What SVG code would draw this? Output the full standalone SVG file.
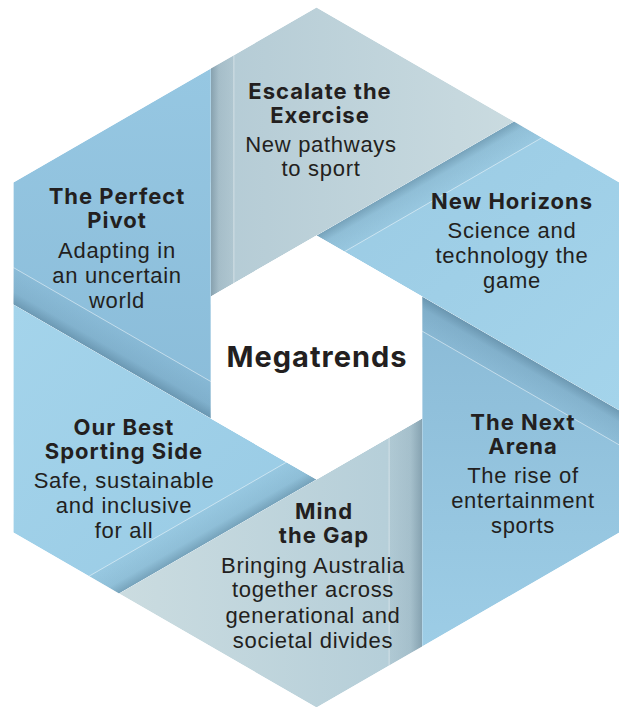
<svg xmlns="http://www.w3.org/2000/svg" width="619" height="707" viewBox="0 0 619 707">
  <defs>
    <style>
      .t { font-family: "Inter", "Liberation Sans", sans-serif; font-weight: 700; font-size: 22px; fill: #231f20; text-anchor: middle; letter-spacing: 1px; }
      .b { font-family: "Liberation Sans", Arial, sans-serif; font-size: 22px; fill: #231f20; text-anchor: middle; letter-spacing: 0.7px; }
      .c { font-family: "Inter", "Liberation Sans", sans-serif; font-weight: 700; font-size: 29px; fill: #231f20; text-anchor: middle; letter-spacing: 1px; }
      .fold { stroke: #ffffff; stroke-opacity: 0.55; stroke-width: 0.8; fill: none; }
    </style>

    <!-- blade fills -->
    <linearGradient id="gEsc" x1="0" y1="0" x2="1" y2="0">
      <stop offset="0" stop-color="#b4cbd5"/>
      <stop offset="1" stop-color="#cadbe0"/>
    </linearGradient>
    <linearGradient id="gHor" x1="0" y1="0" x2="1" y2="1">
      <stop offset="0" stop-color="#9acae3"/>
      <stop offset="1" stop-color="#a4d4eb"/>
    </linearGradient>
    <linearGradient id="gAre" x1="0" y1="0" x2="0" y2="1">
      <stop offset="0" stop-color="#8abad6"/>
      <stop offset="1" stop-color="#9dcde6"/>
    </linearGradient>
    <linearGradient id="gGap" x1="0" y1="0" x2="1" y2="0">
      <stop offset="0" stop-color="#cbdce0"/>
      <stop offset="1" stop-color="#b3cdd8"/>
    </linearGradient>
    <linearGradient id="gBest" x1="0" y1="0" x2="1" y2="1">
      <stop offset="0" stop-color="#a4d4eb"/>
      <stop offset="1" stop-color="#98cae4"/>
    </linearGradient>
    <linearGradient id="gPiv" x1="0" y1="0" x2="0" y2="1">
      <stop offset="0" stop-color="#96c7e2"/>
      <stop offset="1" stop-color="#8abcd9"/>
    </linearGradient>

    <!-- overlap shadow along the edge a blade tucks under -->
    <linearGradient id="shade" x1="0" y1="0" x2="0" y2="1">
      <stop offset="0" stop-color="#1d3f55" stop-opacity="0.30"/>
      <stop offset="0.35" stop-color="#1d3f55" stop-opacity="0.10"/>
      <stop offset="1" stop-color="#1d3f55" stop-opacity="0.04"/>
    </linearGradient>

    <clipPath id="cEsc"><polygon points="210.85,296.5 210.85,68.5 316.5,7.5 513.95,121.5 316.5,235.5"/></clipPath>
    <clipPath id="cHor"><polygon points="316.5,235.5 513.95,121.5 619.6,182.5 619.6,410.5 422.15,296.5"/></clipPath>
    <clipPath id="cAre"><polygon points="422.15,296.5 619.6,410.5 619.6,532.5 422.15,646.5 422.15,418.5"/></clipPath>
    <clipPath id="cGap"><polygon points="422.15,418.5 422.15,646.5 316.5,707.5 119.05,593.5 316.5,479.5"/></clipPath>
    <clipPath id="cBest"><polygon points="316.5,479.5 119.05,593.5 13.4,532.5 13.4,304.5 210.85,418.5"/></clipPath>
    <clipPath id="cPiv"><polygon points="210.85,418.5 13.4,304.5 13.4,182.5 210.85,68.5 210.85,296.5"/></clipPath>
  </defs>

  <!-- Escalate the Exercise (top blade) -->
  <g id="escalate">
    <g clip-path="url(#cEsc)">
      <polygon points="210.85,296.5 210.85,68.5 316.5,7.5 513.95,121.5 316.5,235.5" fill="url(#gEsc)"/>
      <g transform="translate(210.85,296.5) rotate(-90)">
        <rect x="-500" y="0" width="1000" height="23" fill="url(#shade)"/>
        <line class="fold" x1="-500" y1="23" x2="500" y2="23"/>
      </g>
    </g>
    <text class="t" x="320" y="99">Escalate the</text>
    <text class="t" x="320" y="123">Exercise</text>
    <text class="b" x="321" y="152">New pathways</text>
    <text class="b" x="321" y="176">to sport</text>
  </g>

  <!-- New Horizons (upper right blade) -->
  <g id="new-horizons">
    <g clip-path="url(#cHor)">
      <polygon points="316.5,235.5 513.95,121.5 619.6,182.5 619.6,410.5 422.15,296.5" fill="url(#gHor)"/>
      <g transform="translate(316.5,235.5) rotate(-30)">
        <rect x="-500" y="0" width="1000" height="28" fill="url(#shade)"/>
        <line class="fold" x1="-500" y1="28" x2="500" y2="28"/>
      </g>
    </g>
    <text class="t" x="512" y="209">New Horizons</text>
    <text class="b" x="512" y="238">Science and</text>
    <text class="b" x="512" y="263">technology the</text>
    <text class="b" x="512" y="288">game</text>
  </g>

  <!-- The Next Arena (lower right blade) -->
  <g id="next-arena">
    <g clip-path="url(#cAre)">
      <polygon points="422.15,296.5 619.6,410.5 619.6,532.5 422.15,646.5 422.15,418.5" fill="url(#gAre)"/>
      <g transform="translate(422.15,296.5) rotate(30)">
        <rect x="-500" y="0" width="1000" height="30" fill="url(#shade)"/>
        <line class="fold" x1="-500" y1="30" x2="500" y2="30"/>
      </g>
    </g>
    <text class="t" x="523" y="430">The Next</text>
    <text class="t" x="523" y="454">Arena</text>
    <text class="b" x="523" y="483">The rise of</text>
    <text class="b" x="523" y="508">entertainment</text>
    <text class="b" x="523" y="533">sports</text>
  </g>

  <!-- Mind the Gap (bottom blade) -->
  <g id="mind-the-gap">
    <g clip-path="url(#cGap)">
      <polygon points="422.15,418.5 422.15,646.5 316.5,707.5 119.05,593.5 316.5,479.5" fill="url(#gGap)"/>
      <g transform="translate(422.15,418.5) rotate(90)">
        <rect x="-500" y="0" width="1000" height="33" fill="url(#shade)"/>
        <line class="fold" x1="-500" y1="33" x2="500" y2="33"/>
      </g>
    </g>
    <text class="t" x="324" y="519">Mind</text>
    <text class="t" x="324" y="543">the Gap</text>
    <text class="b" x="313" y="573">Bringing Australia</text>
    <text class="b" x="313" y="597">together across</text>
    <text class="b" x="313" y="623">generational and</text>
    <text class="b" x="313" y="648">societal divides</text>
  </g>

  <!-- Our Best Sporting Side (lower left blade) -->
  <g id="best-sporting-side">
    <g clip-path="url(#cBest)">
      <polygon points="316.5,479.5 119.05,593.5 13.4,532.5 13.4,304.5 210.85,418.5" fill="url(#gBest)"/>
      <g transform="translate(316.5,479.5) rotate(150)">
        <rect x="-500" y="0" width="1000" height="30" fill="url(#shade)"/>
        <line class="fold" x1="-500" y1="30" x2="500" y2="30"/>
      </g>
    </g>
    <text class="t" x="124" y="435">Our Best</text>
    <text class="t" x="124" y="459">Sporting Side</text>
    <text class="b" x="124" y="488">Safe, sustainable</text>
    <text class="b" x="124" y="513">and inclusive</text>
    <text class="b" x="124" y="538">for all</text>
  </g>

  <!-- The Perfect Pivot (upper left blade) -->
  <g id="perfect-pivot">
    <g clip-path="url(#cPiv)">
      <polygon points="210.85,418.5 13.4,304.5 13.4,182.5 210.85,68.5 210.85,296.5" fill="url(#gPiv)"/>
      <g transform="translate(210.85,418.5) rotate(210)">
        <rect x="-500" y="0" width="1000" height="32" fill="url(#shade)"/>
        <line class="fold" x1="-500" y1="32" x2="500" y2="32"/>
      </g>
    </g>
    <text class="t" x="117" y="204">The Perfect</text>
    <text class="t" x="117" y="228">Pivot</text>
    <text class="b" x="117" y="258">Adapting in</text>
    <text class="b" x="117" y="283">an uncertain</text>
    <text class="b" x="117" y="308">world</text>
  </g>

  <!-- centre hexagon -->
  <g id="megatrends">
    <polygon points="316.5,235.5 422.15,296.5 422.15,418.5 316.5,479.5 210.85,418.5 210.85,296.5" fill="#ffffff"/>
    <text class="c" x="317" y="367">Megatrends</text>
  </g>
</svg>
